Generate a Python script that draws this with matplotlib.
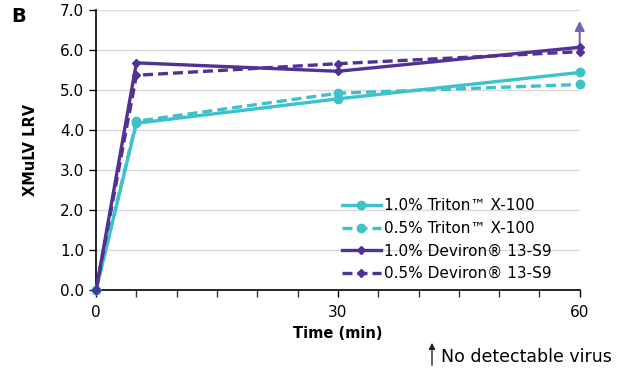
import matplotlib
matplotlib.use("Agg")
import matplotlib.pyplot as plt
from matplotlib.ticker import MultipleLocator

time = [0, 5, 30, 60]
triton_10 = [0.0, 4.17, 4.78, 5.44]
triton_05 = [0.0, 4.22, 4.92, 5.14]
deviron_10 = [0.0, 5.68, 5.47, 6.07]
deviron_05 = [0.0, 5.37, 5.66, 5.96]
labels = ["1.0% Triton\u2122 X-100", "0.5% Triton\u2122 X-100",
          "1.0% Deviron\u00ae 13-S9", "0.5% Deviron\u00ae 13-S9"]
arrow_top = 6.8

teal = "#3DC1CB"
purple = "#4F3293"

plt.rcParams['font.family'] = ['DejaVu Sans']
fig = plt.figure(figsize=(6.2, 3.75), dpi=100)
ax = fig.add_axes([0.155, 0.227, 0.78, 0.746])

ax.plot(time, triton_10, color=teal, lw=2.4, marker='o', ms=6, label=labels[0], clip_on=False, zorder=3)
ax.plot(time, triton_05, color=teal, lw=2.4, ls=(0, (3, 1.5)), marker='o', ms=6, label=labels[1], clip_on=False, zorder=3)
ax.plot(time, deviron_10, color=purple, lw=2.4, marker='D', ms=4.5, label=labels[2], clip_on=False, zorder=4)
ax.plot(time, deviron_05, color=purple, lw=2.4, ls=(0, (3, 1.5)), marker='D', ms=4.5, label=labels[3], clip_on=False, zorder=4)

ax.annotate('', xy=(time[-1], arrow_top), xytext=(time[-1], deviron_10[-1]),
            arrowprops=dict(arrowstyle='-|>', color='#7A63AE', lw=1.5, mutation_scale=14),
            annotation_clip=False)

ax.set_xlim(0, 60)
ax.set_ylim(0, 7)
ax.set_yticks([i for i in range(8)])
ax.set_yticklabels([f"{i:.1f}" for i in range(8)])
ax.set_xticks([0, 30, 60])
ax.xaxis.set_minor_locator(MultipleLocator(5))
ax.tick_params(axis='both', labelsize=11, color='black', length=5, width=1)
ax.tick_params(axis='x', pad=6)
ax.tick_params(axis='x', which='minor', length=5, width=1, color='#333333')
ax.grid(axis='y', color='#D9D9D9', lw=1)
ax.set_axisbelow(True)
for s in ['top', 'right']:
    ax.spines[s].set_visible(False)
ax.spines['left'].set_linewidth(1.2)
ax.spines['bottom'].set_linewidth(1.2)

ax.set_xlabel('Time (min)', fontsize=10.5, fontweight='bold', labelpad=4)
ax.set_ylabel('XMuLV LRV', fontsize=10.5, fontweight='bold', labelpad=16)

leg = ax.legend(loc='lower right', bbox_to_anchor=(0.96, -0.002), frameon=False, fontsize=11,
                handlelength=2.6, handletextpad=0.15, labelspacing=0.5, borderaxespad=0.2)

fig.text(0.018, 0.955, 'B', fontsize=14, fontweight='bold', ha='left', va='center')

fig.patches.append(matplotlib.patches.FancyArrowPatch((432/620, 1-368/375), (432/620, 1-340/375),
                   transform=fig.transFigure, arrowstyle='-|>', mutation_scale=9, color='#222222', lw=1))
fig.text(441/620, 1-357/375, 'No detectable virus', fontsize=12.5, ha='left', va='center')

fig.savefig('out.png', dpi=100)
